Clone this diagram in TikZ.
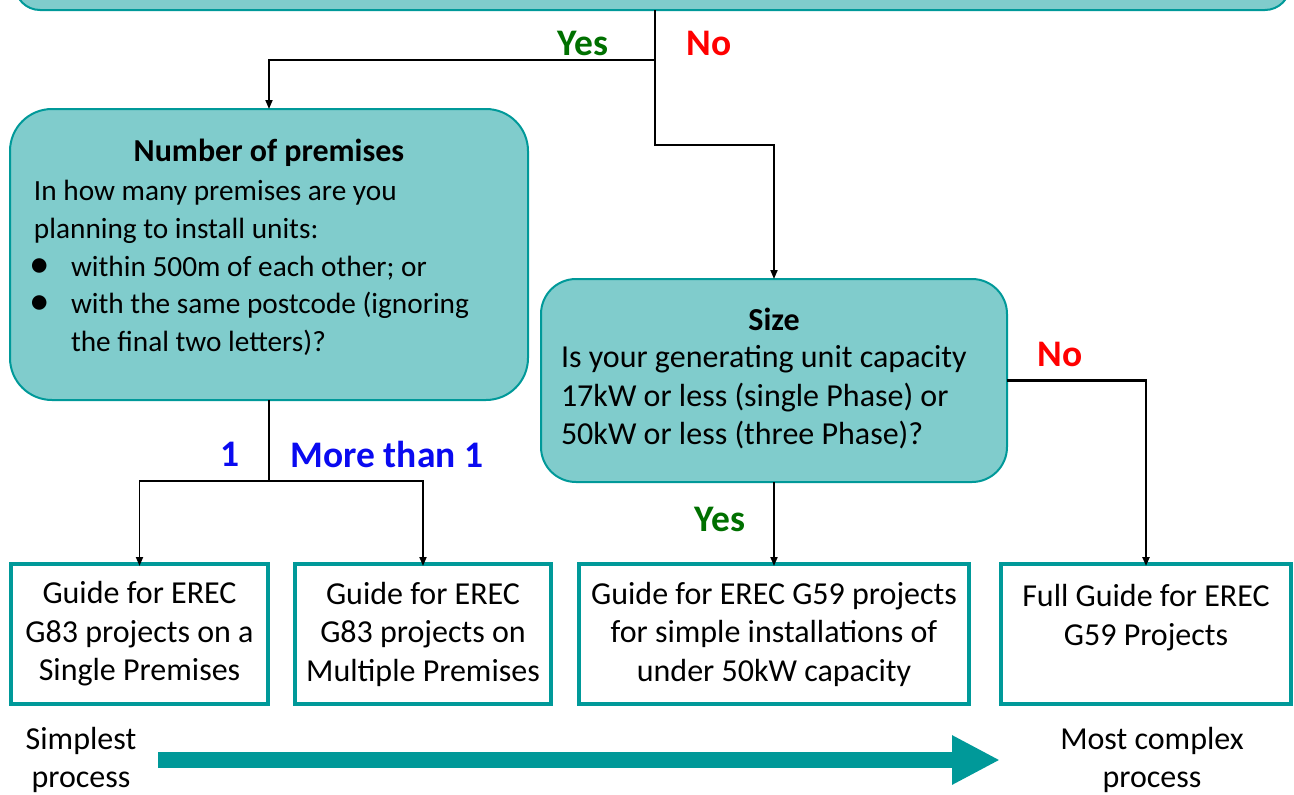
\documentclass[tikz,border=0pt]{standalone}
\usepackage{fontspec}
\setmainfont{Carlito}
\usetikzlibrary{arrows.meta,calc}
\definecolor{boxfill}{RGB}{128,204,204}
\definecolor{tealline}{RGB}{0,153,153}
\definecolor{yesgreen}{RGB}{0,112,0}
\definecolor{nored}{RGB}{255,0,0}
\definecolor{labblue}{RGB}{10,10,240}
\newcommand{\bigbul}{\hspace*{-5pt}\makebox[42pt][l]{\raisebox{-1pt}{\scalebox{1.4}{•}}}}
\begin{document}
\begin{tikzpicture}[x=1pt,y=-1pt,
  every node/.style={font=\fontsize{32}{38.5}\selectfont, inner sep=0pt, outer sep=0pt},
  rbox/.style={draw=tealline, fill=boxfill, line width=2pt, rounded corners=#1},
  rbox/.default=35pt,
  gbox/.style={draw=tealline, fill=white, line width=4pt, align=center, minimum height=140pt},
  conn/.style={draw=black, line width=1.8pt, -{Triangle[length=9pt,width=7pt]}},
  plainline/.style={draw=black, line width=1.8pt},
  lab/.style={font=\fontsize{37.5}{40}\selectfont\bfseries},
  bigarrow/.style={draw=tealline, line width=16pt, -{Triangle[length=48pt,width=46pt]}}
]
\useasboundingbox (0,0) rectangle (1294,795);
\clip (0,0) rectangle (1294,795);

% top (partially visible) box
\node[rbox=25pt, minimum width=1275pt, minimum height=200pt] (top) at (652.5,-90) {};

% premises box
\node[rbox=42pt, minimum width=518pt, minimum height=291pt] (prem) at (269,254.5) {};
\node[font=\fontsize{32}{38.5}\selectfont\bfseries] (premT) at (269,153) {Number of premises};
\node[align=left, anchor=west, font=\fontsize{29.3}{37.8}\selectfont] (premB) at (34,268) {In how many premises are you\\planning to install units:\\\bigbul within 500m of each other; or\\\bigbul with the same postcode (ignoring\\\hspace*{37pt}the final two letters)?};

% size box
\node[rbox=35pt, minimum width=466pt, minimum height=203pt] (size) at (774,380.5) {};
\node[font=\fontsize{32}{38.5}\selectfont\bfseries] (sizeT) at (774,319) {Size};
\node[align=left, anchor=west] (sizeB) at (561,397.5) {Is your generating unit capacity\\17kW or less (single Phase) or\\50kW or less (three Phase)?};

% bottom boxes
\node[gbox, minimum width=257pt] (b1) at (139.5,634) {Guide for EREC\\G83 projects on a\\Single Premises};
\node[gbox, minimum width=256pt] (b2) at (423,634) {Guide for EREC\\G83 projects on\\Multiple Premises};
\node[gbox, minimum width=390pt] (b3) at (774,634) {Guide for EREC G59 projects\\for simple installations of\\under 50kW capacity};
\node[gbox, minimum width=290pt] (b4) at (1146,634) {Full Guide for EREC\\G59 Projects\\\mbox{}};

% junctions
\coordinate (j1) at (655,60);
\coordinate (j2) at (655,145);
\coordinate (j3) at (269,481);

% connectors
\draw[plainline] (top.south -| j1) -- (j1);
\draw[conn] (j1) -- (j2) -| (size.north);
\draw[conn] (j1) -| (prem.north);
\draw[plainline] (prem.south) -- (j3);
\draw[conn] (j3) -| ([yshift=-2pt]b1.north);
\draw[conn] (j3) -| ([yshift=-2pt]b2.north);
\draw[conn] (size.south) -- ([yshift=-2pt]b3.north);
\draw[conn, line width=2.6pt] (size.east) -| ([yshift=-2pt]b4.north);

% labels
\node[lab, text=yesgreen] (yes1) at (583,43) {Yes};
\node[lab, text=nored] (no1) at (709,43) {No};
\node[lab, text=labblue] (one) at (230,454) {1};
\node[lab, text=labblue] (more) at (387,454) {More than 1};
\node[lab, text=nored] (no2) at (1060,354) {No};
\node[lab, text=yesgreen] (yes2) at (720,519) {Yes};

% process arrow
\node[align=center] (simp) at (81,760) {Simplest\\process};
\node[align=center] (comp) at (1152,760) {Most complex\\process};
\coordinate (arS) at (158,760);
\coordinate (arE) at (1000,760);
\draw[bigarrow] (arS) -- (arE);
\end{tikzpicture}
\end{document}
